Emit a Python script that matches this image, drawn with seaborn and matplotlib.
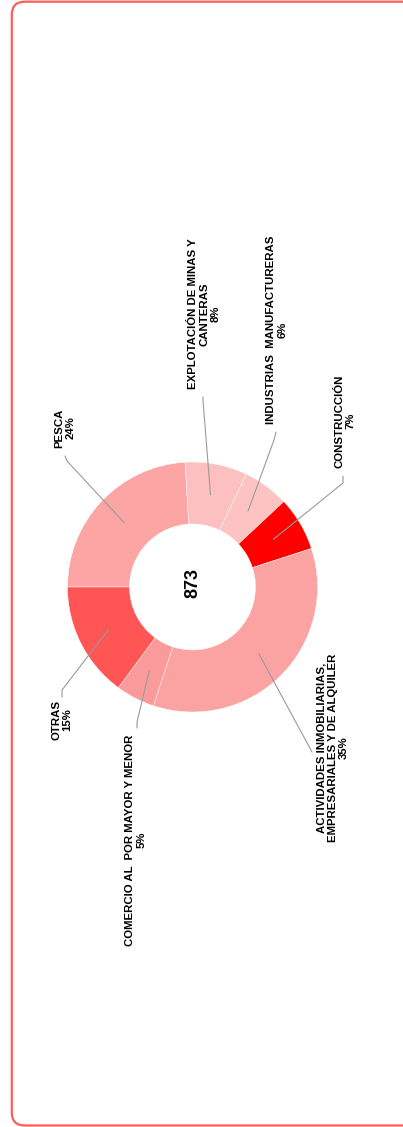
import numpy as np
import matplotlib
matplotlib.use('Agg')
import matplotlib.pyplot as plt
from matplotlib.patches import FancyBboxPatch
import seaborn as sns

# Data (counts by sector, total 873)
sectors = ['PESCA', 'EXPLOTACIÓN DE MINAS Y\nCANTERAS', 'INDUSTRIAS  MANUFACTURERAS',
           'CONSTRUCCIÓN', 'ACTIVIDADES INMOBILIARIAS,\nEMPRESARIALES Y DE ALQUILER',
           'COMERCIO AL  POR MAYOR Y MENOR', 'OTRAS']
counts = [210, 70, 52, 61, 306, 44, 130]
colors = ['#FBA5A5', '#FDC0C0', '#FDC3C3', '#FF0000', '#FBA3A3', '#FA9A9A', '#FF5555']

# label layout (pixel positions, y measured from top)
label_pos = [(65, 428), (204, 314), (277, 330), (345, 421), (333, 748), (136, 840), (62, 720)]
leader_pts = [[(67, 461), (65, 456)], [(203, 400), (203, 397)], [(274, 440), (276, 432)],
              [(343, 483), (343, 476)], [(312, 752), (312, 752)], [(137, 722), (137, 728)],
              [(62, 690), (62, 697)]]

sns.set_style('white')
plt.rcParams['font.family'] = ['Liberation Sans', 'DejaVu Sans']

W, H = 403, 1127
fig = plt.figure(figsize=(W / 100, H / 100), dpi=100)
ax = fig.add_axes([0, 0, 1, 1])

cx, cy = 192.5, H - 587
r_out, r_in = 125, 63
total = sum(counts)

wedges, _ = ax.pie(counts, colors=colors, startangle=180, counterclock=False,
                   center=(cx, cy), radius=r_out,
                   wedgeprops=dict(width=r_out - r_in, edgecolor='white', linewidth=0.3))

ax.text(cx, cy + 4, f'{total}', rotation=90, ha='center', va='center',
        fontsize=13, fontweight='bold', color='black')

r_mid = (r_out + r_in) / 2
for w, name, c, (tx, ty), pts in zip(wedges, sectors, counts, label_pos, leader_pts):
    ang = np.deg2rad((w.theta1 + w.theta2) / 2)
    sx, sy = cx + r_mid * np.cos(ang), cy + r_mid * np.sin(ang)
    xs = [sx] + [p[0] for p in pts]
    ys = [sy] + [H - p[1] for p in pts]
    ax.plot(xs, ys, color='#9a9a9a', linewidth=0.8)
    pct = round(c / total * 100)
    ax.text(tx, H - ty, f'{name}\n{pct}%', rotation=90, ha='center', va='center',
            multialignment='center', fontsize=8.2, fontweight='bold',
            color='black', linespacing=1.15)

# rounded red frame
frame = FancyBboxPatch((11.8, 1.5), 430, H - 3.2,
                       boxstyle='round,pad=0,rounding_size=13',
                       facecolor='none', edgecolor='#FF5C5C', linewidth=1.6)
ax.add_patch(frame)

ax.set_xlim(0, W)
ax.set_ylim(0, H)
ax.set_aspect('equal')
ax.axis('off')

fig.savefig('out.png', dpi=100)
plt.close()
